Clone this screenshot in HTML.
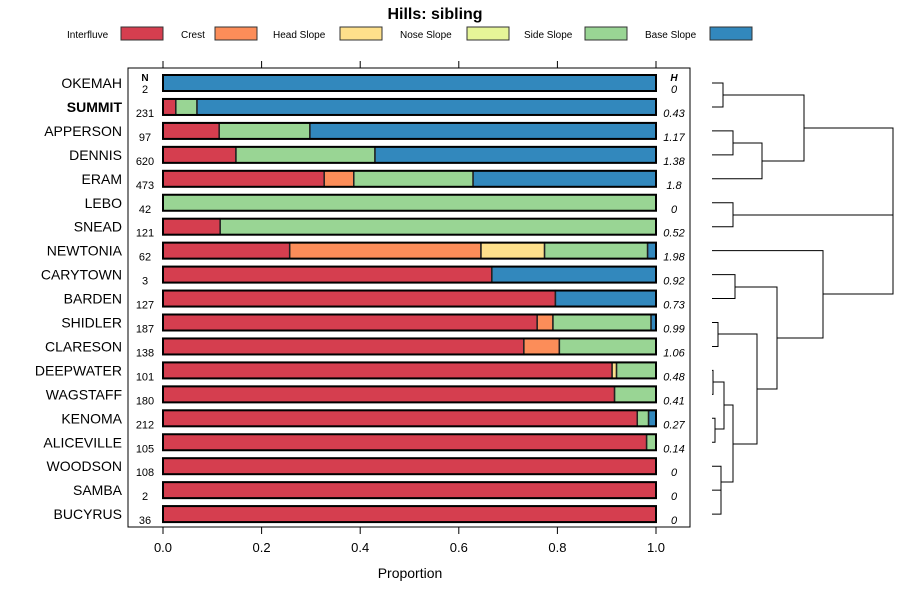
<!DOCTYPE html>
<html><head><meta charset="utf-8"><style>
html,body{margin:0;padding:0;background:#fff}
svg{display:block;font-family:"Liberation Sans",sans-serif}
</style></head><body>
<svg id="c" width="900" height="600" viewBox="0 0 900 600"></svg>
<script>
const names=["OKEMAH","SUMMIT","APPERSON","DENNIS","ERAM","LEBO","SNEAD","NEWTONIA","CARYTOWN","BARDEN","SHIDLER","CLARESON","DEEPWATER","WAGSTAFF","KENOMA","ALICEVILLE","WOODSON","SAMBA","BUCYRUS"];
const nVals=[2,231,97,620,473,42,121,62,3,127,187,138,101,180,212,105,108,2,36];
const hVals=["0","0.43","1.17","1.38","1.8","0","0.52","1.98","0.92","0.73","0.99","1.06","0.48","0.41","0.27","0.14","0","0","0"];
const classes=["Interfluve","Crest","Head Slope","Nose Slope","Side Slope","Base Slope"];
const interfluve=[0,0.026,0.114,0.148,0.327,0,0.116,0.257,0.667,0.796,0.759,0.732,0.911,0.916,0.962,0.981,1,1,1];
const crest=[0,0,0,0,0.06,0,0,0.388,0,0,0.032,0.072,0,0,0,0,0,0,0];
const headSlope=[0,0,0,0,0,0,0,0.129,0,0,0,0,0.009,0,0,0,0,0,0];
const noseSlope=[0,0,0,0,0,0,0,0,0,0,0,0,0,0,0,0,0,0,0];
const sideSlope=[0,0.043,0.184,0.282,0.242,1,0.884,0.209,0,0,0.199,0.196,0.08,0.084,0.023,0.019,0,0,0];
const baseSlope=[1,0.931,0.702,0.57,0.371,0,0,0.017,0.333,0.204,0.01,0,0,0,0.015,0,0,0,0];
const ticks=[0,0.2,0.4,0.6,0.8,1.0];
const colors=["#D53E4F","#FC8D59","#FEE08B","#E6F598","#99D594","#3288BD"];
const series=[interfluve,crest,headSlope,noseSlope,sideSlope,baseSlope];
const NS="http://www.w3.org/2000/svg",svg=document.getElementById("c");
function mk(t,a,p){const e=document.createElementNS(NS,t);for(const k in a)e.setAttribute(k,a[k]);(p||svg).appendChild(e);return e;}
const x=v=>163+v*493, y=i=>83+i*23.95;
// title
let t=mk("text",{x:435,y:19,"text-anchor":"middle","font-size":16,"font-weight":"bold"});t.textContent="Hills: sibling";


// legend
const lt=[[67,121],[181,215],[273,340],[400,467],[524,585],[645,710]];
classes.forEach((c,i)=>{
 const g=mk("g",{});
 
 
 const tx=mk("text",{x:lt[i][0],y:38,"font-size":10},g);tx.textContent=c;
 mk("rect",{x:lt[i][1],y:27,width:42,height:13,fill:colors[i],stroke:"#333","stroke-width":1},g);
});
// plot box
const box=mk("rect",{x:128,y:68,width:562,height:459,fill:"none",stroke:"#000","stroke-width":1});


ticks.forEach(v=>{
 mk("line",{x1:x(v),x2:x(v),y1:61,y2:68,stroke:"#000"});
 mk("line",{x1:x(v),x2:x(v),y1:527,y2:534,stroke:"#000"});
 const tl=mk("text",{x:x(v),y:552,"text-anchor":"middle","font-size":13});tl.textContent=v.toFixed(1);
 
 
});
let xl=mk("text",{x:410,y:578,"text-anchor":"middle","font-size":14});xl.textContent="Proportion";


let hn=mk("text",{x:145,y:81,"text-anchor":"middle","font-size":10,"font-weight":"bold"});hn.textContent="N";


let hh=mk("text",{x:674,y:81,"text-anchor":"middle","font-size":10,"font-weight":"bold","font-style":"italic"});hh.textContent="H";


names.forEach((n,i)=>{
 const cy=y(i);
 const lb=mk("text",{x:122,y:cy+5,"text-anchor":"end","font-size":14,"font-weight":n==="SUMMIT"?"bold":"normal"});lb.textContent=n;
 
 
 const nt=mk("text",{x:145,y:cy+10,"text-anchor":"middle","font-size":11});nt.textContent=nVals[i];
 
 
 const ht=mk("text",{x:674,y:cy+10,"text-anchor":"middle","font-size":11,"font-style":"italic"});ht.textContent=hVals[i];
 
 
 let cum=0;
 series.forEach((s,k)=>{
  const v=s[i]; if(v<=0)return;
  const r=mk("rect",{x:x(cum),y:cy-8,width:x(cum+v)-x(cum),height:16,fill:colors[k],stroke:"#222","stroke-width":1.5});
  
  
  cum+=v;
 });
 mk("rect",{x:x(0),y:cy-8,width:493,height:16,fill:"none",stroke:"#000","stroke-width":2});
});
// dendrogram
const dg=mk("g",{stroke:"#000","stroke-width":1,fill:"none"});


function U(xm,y1,y2,x1,x2){mk("path",{d:`M${x1} ${y1}H${xm}V${y2}H${x2}`},dg);}
const L=712;
U(723,y(0),y(1),L,L);
U(733,y(2),y(3),L,L);
U(762,143,y(4),733,L);
U(804,95,161,723,762);
U(733,y(5),y(6),L,L);
U(735,y(8),y(9),L,L);
U(718,y(10),y(11),L,L);
U(713,y(12),y(13),L,L);
U(715,y(14),y(15),L,L);
U(724,382,429,713,715);
U(721,y(16),y(18),L,L);
mk("path",{d:`M${L} ${y(17)}H721`},dg);
U(733,405,482,724,721);
U(757,334,444,718,733);
U(777,287,389,735,757);
U(823,y(7),338,L,777);
U(893,128,294,804,823);
mk("path",{d:"M733 215H893"},dg);
</script>
</body></html>
